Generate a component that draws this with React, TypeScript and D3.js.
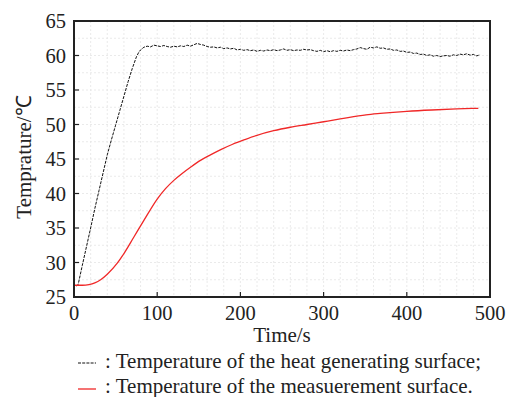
import React from "react";
import * as d3 from "d3";

const xTicks = [0, 100, 200, 300, 400, 500];
const yTicks = [25, 30, 35, 40, 45, 50, 55, 60, 65];

// Heat generating surface (black dashed)
const heatRiseTime = [3, 5, 10, 15, 20, 25, 30, 35, 40, 45, 50, 55, 60, 65, 70, 75, 78, 80];
const heatRiseTemp = [26.6, 26.8, 29.6, 32.3, 35.0, 37.8, 40.4, 43.0, 45.6, 47.8, 49.9, 52.0, 54.1, 56.2, 58.1, 59.8, 60.5, 60.8];
const heatPlateauTemp = [
  61.2, 61.35, 61.25, 61.5, 61.4, 61.3, 61.45, 61.3, 61.2, 61.35,
  61.25, 61.4, 61.3, 61.5, 61.35, 61.55, 61.75, 61.6, 61.5, 61.3,
  61.2, 61.25, 61.1, 61.2, 61.0, 61.1, 60.95, 61.05, 60.8, 60.9,
  60.75, 60.85, 60.7, 60.8, 60.6, 60.75, 60.65, 60.8, 60.7, 60.85,
  60.7, 60.8, 60.95, 60.75, 60.85, 60.7, 60.8, 60.75, 60.9, 60.8,
  60.85, 60.7, 60.6, 60.75, 60.55, 60.7, 60.55, 60.7, 60.6, 60.75,
  60.65, 60.8, 60.7, 60.85, 60.95, 61.15, 61.0, 60.9, 61.2, 61.1,
  61.25, 61.05, 61.1, 60.9, 60.95, 60.75, 60.8, 60.6, 60.65, 60.45,
  60.5, 60.3, 60.35, 60.15, 60.2, 60.0, 60.1, 59.9, 60.0, 59.85,
  59.95, 60.0, 59.9, 60.1, 60.0, 60.2, 60.1, 60.25, 60.05, 60.15,
  59.95, 60.1,
];
const heatPlateauTime = d3.range(84, 489, 4);

// Measurement surface (red)
const measTime = [0, 10, 18, 25, 32, 40, 52, 60, 72, 84, 100, 110, 120, 130, 140, 152, 164, 177, 190, 205, 219, 240, 260, 280, 300, 320, 351, 368, 400, 430, 460, 486];
const measTemp = [26.7, 26.7, 26.8, 27.05, 27.5, 28.3, 29.9, 31.3, 33.7, 36.1, 39.2, 40.7, 41.9, 42.9, 43.8, 44.8, 45.6, 46.4, 47.1, 47.8, 48.4, 49.1, 49.6, 50.0, 50.4, 50.8, 51.4, 51.6, 51.9, 52.1, 52.25, 52.35];

const legendLabels = [
  ": Temperature of the heat generating surface;",
  ": Temperature of the measuerement surface.",
];

const serif = '"Liberation Serif", "Times New Roman", Times, serif';

export default function App() {
  const W = 512, H = 397;
  const left = 74, right = 490, top = 21, bottom = 297;
  const x = d3.scaleLinear().domain([0, 500]).range([left, right]);
  const y = d3.scaleLinear().domain([25, 65]).range([bottom, top]);

  const heatData = [
    ...heatRiseTime.map((t, i) => [t, heatRiseTemp[i]]),
    ...heatPlateauTime.map((t, i) => [t, heatPlateauTemp[i]]),
  ] as [number, number][];
  const measData = measTime.map((t, i) => [t, measTemp[i]]) as [number, number][];

  const heatLine = d3.line<[number, number]>().x(d => x(d[0])).y(d => y(d[1]));
  const measLine = d3.line<[number, number]>().x(d => x(d[0])).y(d => y(d[1])).curve(d3.curveMonotoneX);

  const xGrid = d3.range(20, 500, 20);
  const yGrid = d3.range(27.5, 65, 2.5);
  const ts = (size: number) => ({ fontFamily: serif, fontSize: size + "px" });

  return (
    <svg width={W} height={H} style={{ position: "absolute", left: 0, top: 0, background: "#fff" }}>
      <g stroke="#e4e4e4" strokeWidth={0.8} strokeDasharray="2,2">
        {xGrid.map(v => <line key={"gx" + v} x1={x(v)} x2={x(v)} y1={top} y2={bottom} />)}
        {yGrid.map(v => <line key={"gy" + v} x1={left} x2={right} y1={y(v)} y2={y(v)} />)}
      </g>
      <path d={heatLine(heatData) || ""} fill="none" stroke="#111" strokeWidth={1} strokeDasharray="3,1.2" />
      <path d={measLine(measData) || ""} fill="none" stroke="#f02828" strokeWidth={1.3} />
      <rect x={left} y={top} width={right - left} height={bottom - top} fill="none" stroke="#222" strokeWidth={2} />
      <g stroke="#222" strokeWidth={1.2}>
        {xTicks.map(v => <line key={"tx" + v} x1={x(v)} x2={x(v)} y1={bottom} y2={bottom - 5} />)}
        {yTicks.map(v => <line key={"ty" + v} x1={left} x2={left + 5} y1={y(v)} y2={y(v)} />)}
      </g>
      <g fill="#222">
        {xTicks.map(v => (
          <text key={"lx" + v} x={x(v)} y={320} textAnchor="middle" style={ts(20.5)}>{v}</text>
        ))}
        {yTicks.map(v => (
          <text key={"ly" + v} x={66} y={y(v) + 7} textAnchor="end" style={ts(20.5)}>{v}</text>
        ))}
      </g>
      <text x={282} y={342} textAnchor="middle" fill="#222" style={ts(21)}>Time/s</text>
      <text transform={`translate(31,157) rotate(-90)`} textAnchor="middle" fill="#222" style={ts(21)}>Temprature/℃</text>
      <line x1={78} x2={96} y1={363} y2={363} stroke="#111" strokeWidth={1} strokeDasharray="3,1.2" />
      <line x1={78} x2={96} y1={389} y2={389} stroke="#f02828" strokeWidth={1.3} />
      <text x={105} y={368} fill="#222" style={ts(21)}>{legendLabels[0]}</text>
      <text x={105} y={393} fill="#222" style={ts(21)}>{legendLabels[1]}</text>
    </svg>
  );
}
